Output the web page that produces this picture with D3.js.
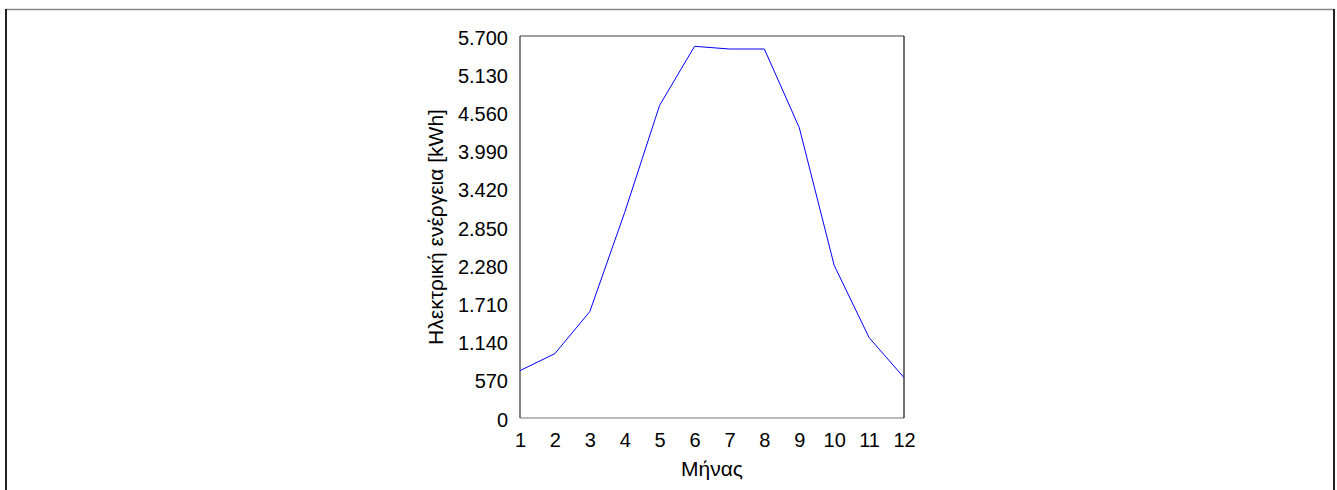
<!DOCTYPE html>
<html>
<head>
<meta charset="utf-8">
<script src="https://cdn.jsdelivr.net/npm/d3@7"></script>
<style>
  html, body { margin: 0; padding: 0; background: #fff; }
  svg { display: block; }
  text { font-family: "Liberation Sans", Arial, sans-serif; fill: #000; }
</style>
</head>
<body>
<svg id="chart" width="1337" height="490"></svg>
<script>
// Data
const months = [1, 2, 3, 4, 5, 6, 7, 8, 9, 10, 11, 12];
const energy = [707, 961, 1588, 3069, 4666, 5546, 5506, 5506, 4333, 2278, 1200, 603];
const yTicks = [0, 570, 1140, 1710, 2280, 2850, 3420, 3990, 4560, 5130, 5700];
const xLabel = "Μήνας";
const yLabel = "Ηλεκτρική ενέργεια [kWh]";

const svg = d3.select("#chart");
const W = 1337, H = 490;
const plot = { left: 520, right: 904, top: 36, bottom: 418 };

const locale = d3.formatLocale({ decimal: ",", thousands: ".", grouping: [3], currency: ["", "€"] });
const fmt = locale.format(",d");

const x = d3.scaleLinear().domain([1, 12]).range([plot.left, plot.right]);
const y = d3.scaleLinear().domain([0, 5700]).range([plot.bottom, plot.top]);

// outer frame
svg.append("line").attr("x1", 6).attr("x2", 1334).attr("y1", 9.5).attr("y2", 9.5)
  .attr("stroke", "#888").attr("stroke-width", 1.5);
svg.append("line").attr("x1", 6).attr("x2", 6).attr("y1", 9).attr("y2", H)
  .attr("stroke", "#222").attr("stroke-width", 2);
svg.append("line").attr("x1", 1334).attr("x2", 1334).attr("y1", 9).attr("y2", H)
  .attr("stroke", "#222").attr("stroke-width", 2);

// axes
const yAxis = svg.append("g").attr("transform", `translate(${plot.left},0)`)
  .call(d3.axisLeft(y).tickValues(yTicks).tickFormat(fmt).tickSize(0).tickPadding(12));
yAxis.select(".domain").remove();
yAxis.selectAll("text").attr("font-size", 20).attr("dy", "0.4em")
  .style("font-family", '"Liberation Sans", Arial, sans-serif');

const xAxis = svg.append("g").attr("transform", `translate(0,${plot.bottom})`)
  .call(d3.axisBottom(x).tickValues(months).tickFormat(d3.format("d")).tickSize(0).tickPadding(15));
xAxis.select(".domain").remove();
xAxis.selectAll("text").attr("font-size", 20)
  .style("font-family", '"Liberation Sans", Arial, sans-serif');

// plot frame
svg.append("line").attr("x1", plot.left).attr("x2", plot.right).attr("y1", plot.top).attr("y2", plot.top)
  .attr("stroke", "#808080").attr("stroke-width", 1.5);
svg.append("line").attr("x1", plot.left).attr("x2", plot.right).attr("y1", plot.bottom).attr("y2", plot.bottom)
  .attr("stroke", "#777").attr("stroke-width", 1.2);
svg.append("line").attr("x1", plot.left).attr("x2", plot.left).attr("y1", plot.top).attr("y2", plot.bottom)
  .attr("stroke", "#333").attr("stroke-width", 1.2);
svg.append("line").attr("x1", plot.right).attr("x2", plot.right).attr("y1", plot.top).attr("y2", plot.bottom)
  .attr("stroke", "#111").attr("stroke-width", 1.2);

// line
const line = d3.line().x((d, i) => x(months[i])).y(d => y(d));
svg.append("path").datum(energy).attr("d", line)
  .attr("fill", "none").attr("stroke", "#0000ff").attr("stroke-width", 1);

// titles
svg.append("text").attr("x", (plot.left + plot.right) / 2).attr("y", 476)
  .attr("text-anchor", "middle").attr("font-size", 21).text(xLabel);
svg.append("text").attr("transform", `translate(443,${(plot.top + plot.bottom) / 2}) rotate(-90)`)
  .attr("text-anchor", "middle").attr("font-size", 21).text(yLabel);
</script>
</body>
</html>
